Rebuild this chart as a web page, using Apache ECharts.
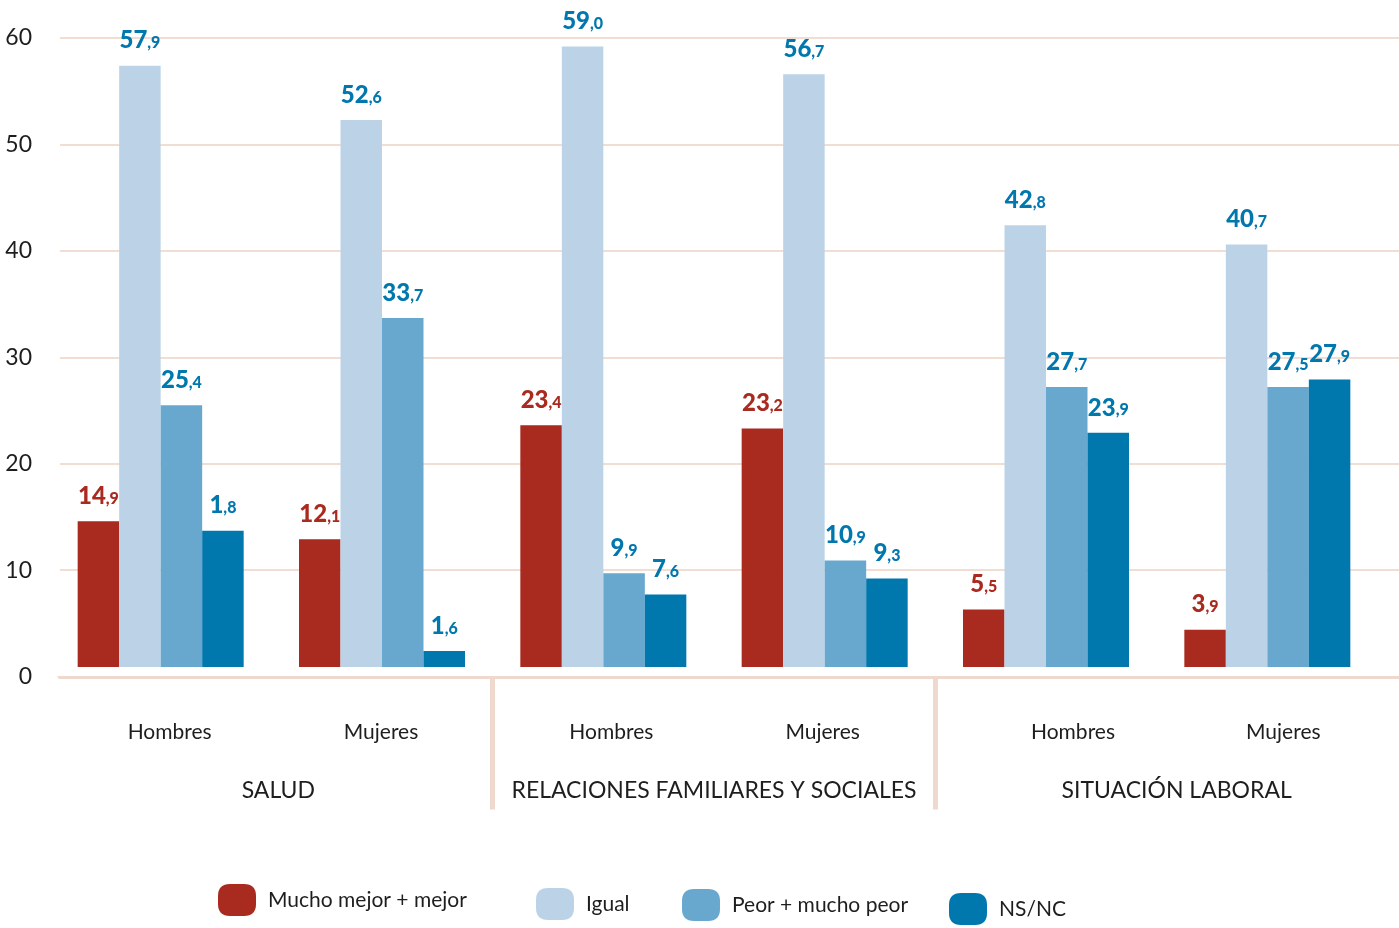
<!DOCTYPE html>
<html>
<head>
<meta charset="utf-8">
<script src="https://cdn.jsdelivr.net/npm/echarts@6/dist/echarts.min.js"></script>
<style>
html, body { margin: 0; padding: 0; background: #ffffff; }
#main { width: 1399px; height: 928px; }
</style>
</head>
<body>
<div id="main"></div>
<script>
var subgroups = ['Hombres', 'Mujeres', 'Hombres', 'Mujeres', 'Hombres', 'Mujeres'];
var groups = ['SALUD', 'RELACIONES FAMILIARES Y SOCIALES', 'SITUACIÓN LABORAL'];
var seriesNames = ['Mucho mejor + mejor', 'Igual', 'Peor + mucho peor', 'NS/NC'];
var yTicks = [0, 10, 20, 30, 40, 50, 60];

// bar heights as drawn in the picture
var mejor = [14.6, 12.9, 23.6, 23.3, 6.3, 4.4];
var igual = [57.4, 52.3, 59.2, 56.6, 42.4, 40.6];
var peor = [25.5, 33.7, 9.7, 10.9, 27.2, 27.2];
var nsnc = [13.7, 2.4, 7.7, 9.2, 22.9, 27.9];

// printed value labels
var mejorLabels = ['14,9', '12,1', '23,4', '23,2', '5,5', '3,9'];
var igualLabels = ['57,9', '52,6', '59,0', '56,7', '42,8', '40,7'];
var peorLabels = ['25,4', '33,7', '9,9', '10,9', '27,7', '27,5'];
var nsncLabels = ['1,8', '1,6', '7,6', '9,3', '23,9', '27,9'];

var colors = ['#a92a1f', '#bcd3e7', '#68a8cf', '#0077ad'];
var labelColors = ['#a92a1f', '#0077ad', '#0077ad', '#0077ad'];
var pink = '#efd8cd';
var txtFont = 'Lato, sans-serif';

// small nudges so the axis texts sit where the original has them
var subShift = [9, -1, 8, -2, 27, 16];
var groupShift = [7, 0, 20];

var chipIcon = 'path://M12,0 L26,0 Q38,0 38,12 L38,20 Q38,32 26,32 L12,32 Q0,32 0,20 L0,12 Q0,0 12,0 Z';

function shiftRich(shift, size) {
    var pad = shift > 0 ? [0, 0, 0, shift * 2] : [0, -shift * 2, 0, 0];
    return { fontSize: size, fontFamily: txtFont, color: '#1e1e1e', padding: pad };
}

var subRich = {};
for (var i = 0; i < subShift.length; i++) {
    subRich['s' + i] = shiftRich(subShift[i], 21);
}
var groupRich = {};
for (var j = 0; j < groupShift.length; j++) {
    groupRich['g' + j] = shiftRich(groupShift[j], 23);
}

function makeSeries(idx, values, labels) {
    return {
        name: seriesNames[idx],
        type: 'bar',
        xAxisIndex: 1,
        yAxisIndex: 1,
        barGap: 0,
        barCategoryGap: '25%',
        itemStyle: { color: colors[idx] },
        label: {
            show: true,
            position: 'top',
            distance: 13,
            formatter: function (p) {
                var parts = labels[p.dataIndex].split(',');
                return '{a|' + parts[0] + '}{b|,' + parts[1] + '}';
            },
            rich: {
                a: { fontSize: 24, fontWeight: 900, fontFamily: txtFont, color: labelColors[idx] },
                b: { fontSize: 16, fontWeight: 900, fontFamily: txtFont, color: labelColors[idx], padding: [5, 0, 0, 0] }
            }
        },
        data: values
    };
}

var legendLeft = [218, 536, 682, 949];
var legendTop = [884, 888, 889, 893];
var legends = [];
for (var k = 0; k < seriesNames.length; k++) {
    legends.push({
        left: legendLeft[k],
        top: legendTop[k],
        padding: 0,
        itemWidth: 38,
        itemHeight: 32,
        icon: chipIcon,
        selectedMode: false,
        data: [seriesNames[k]],
        textStyle: { fontSize: 21, fontFamily: txtFont, color: '#1e1e1e', padding: [6, 0, 0, 7] }
    });
}

var myChart = echarts.init(document.getElementById('main'));

var option = {
    backgroundColor: '#ffffff',
    animation: false,
    legend: legends,
    grid: [
        { left: 60, right: 0, top: 38, bottom: 251.5 },
        { left: 50, right: 21, top: 38, bottom: 251.5 }
    ],
    xAxis: [
        {
            // thick base line under the plot
            gridIndex: 0,
            type: 'category',
            position: 'bottom',
            offset: 2,
            z: 5,
            data: subgroups,
            axisLine: { lineStyle: { color: pink, width: 5 } },
            axisTick: { show: false },
            axisLabel: { show: false }
        },
        {
            gridIndex: 1,
            type: 'category',
            position: 'bottom',
            data: subgroups,
            axisLine: { show: false },
            axisTick: { show: false },
            axisLabel: {
                margin: 45,
                formatter: function (v, i) { return '{s' + i + '|' + v + '}'; },
                rich: subRich
            }
        },
        {
            gridIndex: 1,
            type: 'category',
            position: 'bottom',
            data: groups,
            axisLine: { show: false },
            axisTick: { show: false },
            axisLabel: {
                margin: 103,
                formatter: function (v, i) { return '{g' + i + '|' + v + '}'; },
                rich: groupRich
            }
        },
        {
            // separators between the three blocks
            gridIndex: 1,
            type: 'category',
            position: 'bottom',
            boundaryGap: false,
            data: ['', '', '', ''],
            axisLine: { show: false },
            axisLabel: { show: false },
            axisTick: {
                show: true,
                length: 133,
                interval: function (i) { return i === 1 || i === 2; },
                lineStyle: { color: pink, width: 5 }
            }
        }
    ],
    yAxis: [
        {
            gridIndex: 0,
            type: 'value',
            min: yTicks[0],
            max: yTicks[yTicks.length - 1],
            interval: 10,
            axisLine: { show: false },
            axisTick: { show: false },
            axisLabel: { margin: 28, fontSize: 23, fontFamily: txtFont, color: '#1e1e1e' },
            splitLine: { lineStyle: { color: '#f2ddd3', width: 2 } }
        },
        {
            gridIndex: 1,
            type: 'value',
            min: yTicks[0],
            max: yTicks[yTicks.length - 1],
            interval: 10,
            show: false,
            splitLine: { show: false }
        }
    ],
    graphic: [
        {
            // white band between bar feet and the base line
            type: 'rect',
            z: 100,
            shape: { x: 50, y: 667, width: 1349, height: 9 },
            style: { fill: '#ffffff' }
        }
    ],
    series: [
        makeSeries(0, mejor, mejorLabels),
        makeSeries(1, igual, igualLabels),
        makeSeries(2, peor, peorLabels),
        makeSeries(3, nsnc, nsncLabels)
    ]
};

myChart.setOption(option);
</script>
</body>
</html>
